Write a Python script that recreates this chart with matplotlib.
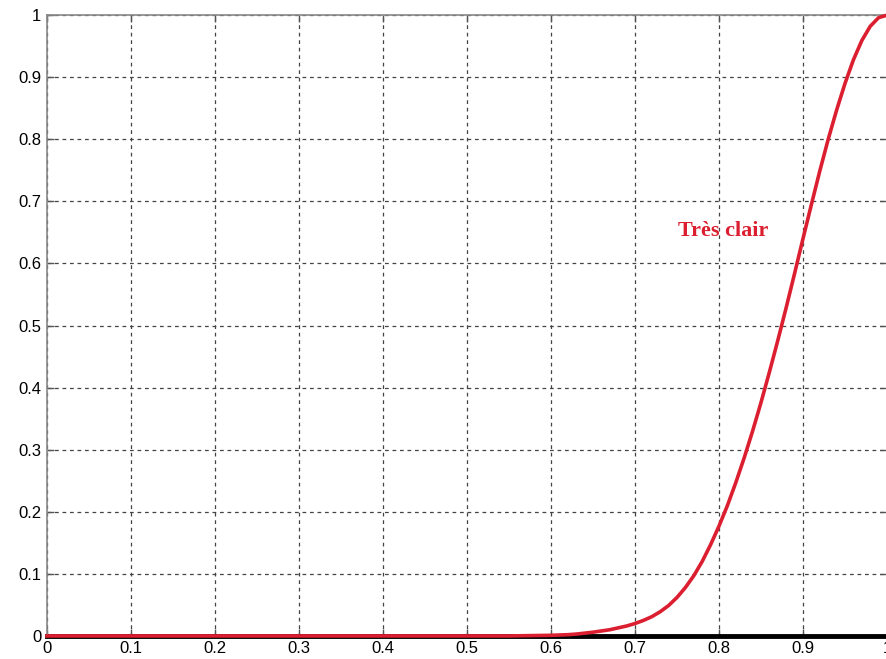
import numpy as np
import matplotlib
matplotlib.use('Agg')
import matplotlib.pyplot as plt

x_vals = [0.0, 0.1, 0.2, 0.3, 0.4, 0.5, 0.55,
          0.60, 0.61, 0.62, 0.63, 0.64, 0.65, 0.66, 0.67, 0.68, 0.69,
          0.70, 0.71, 0.72, 0.73, 0.74, 0.75, 0.76, 0.77, 0.78, 0.79,
          0.80, 0.81, 0.82, 0.83, 0.84, 0.85, 0.86, 0.87, 0.88, 0.89,
          0.90, 0.91, 0.92, 0.93, 0.94, 0.95, 0.96, 0.97, 0.98, 0.99, 1.0]
y_vals = [0.0, 0.0, 0.0, 0.0, 0.0, 0.0, 0.0,
          0.001, 0.0015, 0.002, 0.003, 0.0045, 0.006, 0.008, 0.010, 0.013, 0.016,
          0.020, 0.025, 0.031, 0.039, 0.049, 0.062, 0.078, 0.097, 0.120, 0.147,
          0.177, 0.210, 0.247, 0.287, 0.330, 0.376, 0.425, 0.476, 0.529, 0.584,
          0.640, 0.695, 0.749, 0.800, 0.847, 0.890, 0.928, 0.959, 0.982, 0.996, 1.0]

x_ticks = np.round(np.arange(0, 1.01, 0.1), 1)
y_ticks = np.round(np.arange(0, 1.01, 0.1), 1)
x_labels = ['0', '0.1', '0.2', '0.3', '0.4', '0.5', '0.6', '0.7', '0.8', '0.9', '1']
y_labels = ['0', '0.1', '0.2', '0.3', '0.4', '0.5', '0.6', '0.7', '0.8', '0.9', '1']

rouge = '#dc1f30'

fig = plt.figure(figsize=(8.87, 6.59), dpi=100)
ax = fig.add_axes([0.053, 0.035, 0.947, 0.942])

ax.plot([0, 1], [0, 0], color='black', linewidth=3.5, zorder=2, clip_on=False)
ax.plot(x_vals, y_vals, color=rouge, linewidth=2.6, zorder=3, clip_on=False,
        solid_joinstyle='round')

ax.text(0.751, 0.652, 'Très clair', color=rouge, fontsize=16,
        fontweight='bold', family='Liberation Serif', va='center', ha='left')

ax.set_xlim(0, 1)
ax.set_ylim(0, 1)
ax.set_xticks(x_ticks)
ax.set_xticklabels(x_labels)
ax.set_yticks(y_ticks)
ax.set_yticklabels(y_labels)
for lab in ax.get_xticklabels() + ax.get_yticklabels():
    lab.set_family('Liberation Sans')
    lab.set_fontsize(12)

ax.tick_params(direction='in', length=5, width=1, color='#555555',
               top=True, right=True, pad=4)
ax.grid(True, color='#444444', linestyle=(0, (3, 3)), linewidth=0.9)

for side in ['left', 'top', 'right']:
    ax.spines[side].set_color('#888888')
    ax.spines[side].set_linewidth(1.2)
ax.spines['bottom'].set_visible(False)

fig.savefig('out.png', dpi=100)
